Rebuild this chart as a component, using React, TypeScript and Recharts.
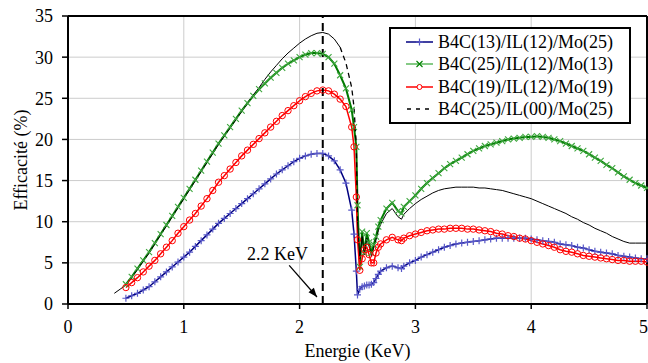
import React from "react";
import {
  CartesianGrid,
  Legend,
  Line,
  LineChart,
  ReferenceDot,
  ReferenceLine,
  XAxis,
  YAxis,
} from "recharts";

const FONT = "'Liberation Serif', 'Times New Roman', serif";

// energy grid (KeV), denser around the edge at 2.5 KeV
const energies = [
  0.4, 0.45, 0.5, 0.55, 0.6, 0.65, 0.7, 0.75, 0.8, 0.85,
  0.9, 0.95, 1.0, 1.05, 1.1, 1.15, 1.2, 1.25, 1.3, 1.35,
  1.4, 1.45, 1.5, 1.55, 1.6, 1.65, 1.7, 1.75, 1.8, 1.85,
  1.9, 1.95, 2.0, 2.05, 2.1, 2.15, 2.2, 2.25, 2.3, 2.35,
  2.4, 2.45, 2.47, 2.49, 2.5, 2.52, 2.54, 2.56, 2.58, 2.6,
  2.62, 2.64, 2.66, 2.68, 2.7, 2.75, 2.8, 2.85, 2.88, 2.9,
  2.95, 3.0, 3.05, 3.1, 3.15, 3.2, 3.25, 3.3, 3.35, 3.4,
  3.45, 3.5, 3.55, 3.6, 3.65, 3.7, 3.75, 3.8, 3.85, 3.9,
  3.95, 4.0, 4.05, 4.1, 4.15, 4.2, 4.25, 4.3, 4.35, 4.4,
  4.45, 4.5, 4.55, 4.6, 4.65, 4.7, 4.75, 4.8, 4.85, 4.9,
  4.95, 5.0,
];

// B4C(13)/IL(12)/Mo(25)
const effB13 = [
  null, null, 0.7, 1.0, 1.3, 1.7, 2.1, 2.7, 3.3, 3.9,
  4.5, 5.1, 5.7, 6.3, 7.0, 7.7, 8.4, 9.1, 9.8, 10.4,
  11.0, 11.6, 12.2, 12.8, 13.4, 14.0, 14.6, 15.2, 15.8, 16.3,
  16.8, 17.3, 17.7, 18.0, 18.2, 18.3, 18.3, 18.0, 17.4, 16.3,
  14.7, 11.4, 8.5, 4.0, 1.1, 1.8, 2.1, 2.2, 2.3, 2.3,
  2.4, 2.6, 3.1, 3.6, 4.0, 4.4, 4.6, 4.4, 4.3, 4.6,
  5.0, 5.3, 5.7, 6.0, 6.3, 6.6, 6.9, 7.1, 7.3, 7.4,
  7.5, 7.6, 7.7, 7.8, 7.9, 8.0, 8.0, 8.0, 8.0, 8.0,
  8.0, 7.9, 7.8, 7.7, 7.6, 7.5, 7.3, 7.2, 7.1, 6.9,
  6.8, 6.6, 6.4, 6.3, 6.2, 6.1, 5.9, 5.8, 5.7, 5.6,
  5.5, 5.5,
];

// B4C(25)/IL(12)/Mo(13)
const effB25 = [
  null, null, 2.4, 3.3, 4.3, 5.3, 6.3, 7.4, 8.5, 9.6,
  10.7, 11.8, 12.9, 14.0, 15.1, 16.2, 17.3, 18.4, 19.5, 20.5,
  21.5, 22.5, 23.5, 24.4, 25.3, 26.1, 26.8, 27.5, 28.1, 28.7,
  29.2, 29.6, 30.0, 30.3, 30.5, 30.5, 30.4, 30.0, 29.2, 27.8,
  26.2, 23.6, 21.5, 19.1, 12.0, 4.5, 8.8, 6.2, 8.6, 7.5,
  6.2, 7.2, 8.2, 9.4, 10.2, 11.6, 12.3, 11.3, 11.0, 11.8,
  12.5, 13.2, 14.0, 14.7, 15.3, 15.9, 16.5, 17.0, 17.4, 17.8,
  18.2, 18.6, 18.9, 19.2, 19.4, 19.6, 19.8, 20.0, 20.1, 20.2,
  20.3, 20.3, 20.4, 20.3, 20.2, 20.0, 19.8, 19.5, 19.2, 18.9,
  18.6, 18.2, 17.8, 17.4, 16.9, 16.5, 16.0, 15.5, 15.1, 14.7,
  14.4, 14.1,
];

// B4C(19)/IL(12)/Mo(19)
const effB19 = [
  null, null, 2.0, 2.6, 3.2, 3.9, 4.6, 5.3, 6.1, 6.9,
  7.7, 8.6, 9.4, 10.2, 11.0, 11.9, 12.8, 13.8, 14.8, 15.6,
  16.4, 17.2, 18.0, 18.7, 19.4, 20.1, 20.8, 21.5, 22.2, 22.9,
  23.5, 24.1, 24.7, 25.2, 25.6, 25.9, 26.0, 25.9, 25.5, 24.9,
  24.0, 21.5, 19.1, 13.0, 7.8, 4.1, 5.5, 6.6, 6.9, 6.0,
  5.0, 5.0, 6.2, 6.9, 7.3, 7.8, 8.1, 7.8, 7.7, 8.0,
  8.3, 8.5, 8.7, 8.9, 9.0, 9.1, 9.1, 9.2, 9.2, 9.2,
  9.1, 9.1, 9.0, 8.9, 8.8, 8.6, 8.5, 8.3, 8.2, 8.0,
  7.9, 7.7, 7.5, 7.3, 7.1, 6.9, 6.6, 6.4, 6.3, 6.1,
  5.9, 5.8, 5.7, 5.6, 5.5, 5.4, 5.3, 5.3, 5.2, 5.2,
  5.2, 5.1,
];

// B4C(25)/IL(00)/Mo(25)
const effNoIL = [
  1.3, 1.8, 2.3, 3.2, 4.2, 5.2, 6.2, 7.3, 8.4, 9.5,
  10.6, 11.7, 12.8, 13.9, 15.0, 16.1, 17.2, 18.3, 19.4, 20.4,
  21.4, 22.4, 23.4, 24.4, 25.4, 26.3, 27.3, 28.2, 29.0, 29.8,
  30.5, 31.1, 31.7, 32.2, 32.6, 32.9, 33.0, 32.8, 32.2, 31.2,
  29.3, 26.3, 23.9, 19.1, 10.0, 5.5, 8.2, 6.0, 8.0, 7.0,
  5.8, 6.8, 7.8, 8.9, 9.7, 11.0, 11.6, 10.6, 10.3, 10.9,
  11.6, 12.2, 12.7, 13.1, 13.5, 13.8, 14.0, 14.1, 14.2, 14.2,
  14.2, 14.2, 14.1, 14.1, 14.0, 13.9, 13.8, 13.6, 13.4, 13.2,
  13.0, 12.8, 12.5, 12.2, 11.9, 11.6, 11.3, 11.0, 10.6, 10.3,
  9.9, 9.6, 9.2, 8.9, 8.6, 8.2, 7.9, 7.6, 7.4, 7.4,
  7.4, 7.4,
];

const seriesNames = [
  "B4C(13)/IL(12)/Mo(25)",
  "B4C(25)/IL(12)/Mo(13)",
  "B4C(19)/IL(12)/Mo(19)",
  "B4C(25)/IL(00)/Mo(25)",
];

const xTicks = [0, 1, 2, 3, 4, 5];
const yTicks = [0, 5, 10, 15, 20, 25, 30, 35];

const edgeEnergy = 2.2;
const edgeLabel = "2.2 KeV";
const labelPos = { x: 1.81, y: 5.4 };
const arrowFrom = { x: 1.91, y: 4.7 };
const arrowTo = { x: 2.15, y: 0.85 };
// the no-interlayer curve shows its dashes only on the steep fall
const dashFrom = 2.35;
const dashTo = 2.5;

const data = energies.map((x, i) => ({
  x,
  b13: effB13[i],
  b25: effB25[i],
  b19: effB19[i],
  noIL: x <= dashFrom || x >= dashTo ? effNoIL[i] : null,
  noILFall: x >= dashFrom && x <= dashTo ? effNoIL[i] : null,
}));

const missing = (p: any) => p.cx == null || p.cy == null || p.value == null;

const plusDot = (p: any) =>
  missing(p) ? (
    <g key={`p${p.index}`} />
  ) : (
    <path
      key={`p${p.index}`}
      d={`M${p.cx - 3.5},${p.cy}h7M${p.cx},${p.cy - 3.5}v7`}
      stroke="#5858c8"
      strokeWidth={1.2}
    />
  );

const crossDot = (p: any) =>
  missing(p) ? (
    <g key={`x${p.index}`} />
  ) : (
    <path
      key={`x${p.index}`}
      d={`M${p.cx - 3},${p.cy - 3}l6,6M${p.cx - 3},${p.cy + 3}l6,-6`}
      stroke="#3fa83f"
      strokeWidth={1.1}
    />
  );

const circleDot = (p: any) =>
  missing(p) ? (
    <g key={`o${p.index}`} />
  ) : (
    <circle key={`o${p.index}`} cx={p.cx} cy={p.cy} r={3.2} fill="none" stroke="#ff0000" strokeWidth={1} />
  );

function legendSample(i: number) {
  if (i === 0)
    return (
      <g>
        <line x1={0} y1={6} x2={27} y2={6} stroke="#000080" strokeWidth={1.5} />
        <path d="M10,6h7M13.5,2.5v7" stroke="#5858c8" strokeWidth={1.2} />
      </g>
    );
  if (i === 1)
    return (
      <g>
        <line x1={0} y1={6} x2={27} y2={6} stroke="#5cb85c" strokeWidth={1.5} />
        <path d="M10.5,3l6,6M10.5,9l6,-6" stroke="#008000" strokeWidth={1.1} />
      </g>
    );
  if (i === 2)
    return (
      <g>
        <line x1={0} y1={6} x2={27} y2={6} stroke="#ff0000" strokeWidth={1.5} />
        <circle cx={13.5} cy={6} r={2.5} fill="#fff" stroke="#ff0000" strokeWidth={1} />
      </g>
    );
  return <line x1={1} y1={6} x2={27} y2={6} stroke="#000" strokeWidth={1.5} strokeDasharray="4 5" />;
}

function LegendBox() {
  return (
    <div
      style={{
        width: 242,
        height: 97,
        border: "2px solid #000",
        background: "#fff",
        boxSizing: "border-box",
        padding: "1.5px 0 0 15px",
        fontFamily: FONT,
        fontSize: 18,
        color: "#000",
      }}
    >
      {seriesNames.map((name, i) => (
        <div key={name} style={{ display: "flex", alignItems: "center", height: 22.5 }}>
          <svg width={27} height={12} style={{ display: "block" }}>
            {legendSample(i)}
          </svg>
          <span style={{ marginLeft: 5, lineHeight: "22.5px", whiteSpace: "nowrap" }}>{name}</span>
        </div>
      ))}
    </div>
  );
}

const tickStyle = { fill: "#000", fontSize: 18, fontFamily: FONT };

export default function App() {
  return (
    <div style={{ position: "absolute", left: 0, top: 0, width: 648, height: 363, background: "#fff" }}>
      <LineChart width={648} height={363} data={data} margin={{ top: 16, right: 1, left: 0, bottom: 0 }}>
        <CartesianGrid stroke="#cccccc" strokeWidth={1} />
        <XAxis
          dataKey="x"
          type="number"
          domain={[0, 5]}
          ticks={xTicks}
          height={59}
          tickSize={5}
          tickMargin={11}
          tick={tickStyle}
          axisLine={{ stroke: "#000", strokeWidth: 2 }}
          tickLine={{ stroke: "#000", strokeWidth: 1.5 }}
          label={{ value: "Energie (KeV)", position: "insideBottom", offset: 6, fill: "#000", fontSize: 18, fontFamily: FONT }}
        />
        <YAxis
          type="number"
          domain={[0, 35]}
          ticks={yTicks}
          width={68}
          tickSize={6}
          tickMargin={9}
          tick={tickStyle}
          axisLine={{ stroke: "#000", strokeWidth: 2 }}
          tickLine={{ stroke: "#000", strokeWidth: 1.5 }}
          label={{
            value: "Efficacité (%)",
            angle: -90,
            position: "insideLeft",
            offset: 21,
            fill: "#000",
            fontSize: 18,
            fontFamily: FONT,
            style: { textAnchor: "middle" },
          }}
        />
        <ReferenceLine y={35} stroke="#000" strokeWidth={2} />
        <ReferenceLine x={5} stroke="#000" strokeWidth={2} />
        <Line dataKey="b13" name={seriesNames[0]} stroke="#000080" strokeWidth={1.5} dot={plusDot} isAnimationActive={false} />
        <Line dataKey="b25" name={seriesNames[1]} stroke="#007a00" strokeWidth={2} dot={crossDot} isAnimationActive={false} />
        <Line dataKey="b19" name={seriesNames[2]} stroke="#ff0000" strokeWidth={1.5} dot={circleDot} isAnimationActive={false} />
        <Line dataKey="noIL" name={seriesNames[3]} stroke="#000" strokeWidth={1} dot={false} isAnimationActive={false} />
        <Line
          dataKey="noILFall"
          legendType="none"
          stroke="#000"
          strokeWidth={1.3}
          strokeDasharray="5 4"
          dot={false}
          isAnimationActive={false}
        />
        <ReferenceLine x={edgeEnergy} stroke="#000" strokeWidth={2} strokeDasharray="8 5" />
        <ReferenceLine segment={[arrowFrom, arrowTo]} stroke="#000" strokeWidth={1.3} />
        <ReferenceDot
          x={arrowTo.x}
          y={arrowTo.y}
          shape={(p: any) => (
            <polygon
              points="0,0 -9,-3.5 -9,3.5"
              fill="#000"
              transform={`translate(${p.cx},${p.cy}) rotate(50)`}
            />
          )}
        />
        <ReferenceDot
          x={labelPos.x}
          y={labelPos.y}
          shape={(p: any) => (
            <text x={p.cx} y={p.cy} textAnchor="middle" fontFamily={FONT} fontSize={18} fill="#000">
              {edgeLabel}
            </text>
          )}
        />
        <Legend
          layout="vertical"
          align="center"
          verticalAlign="middle"
          content={() => <LegendBox />}
          wrapperStyle={{ left: 389, top: 27, width: 242, height: 97 }}
        />
      </LineChart>
    </div>
  );
}
